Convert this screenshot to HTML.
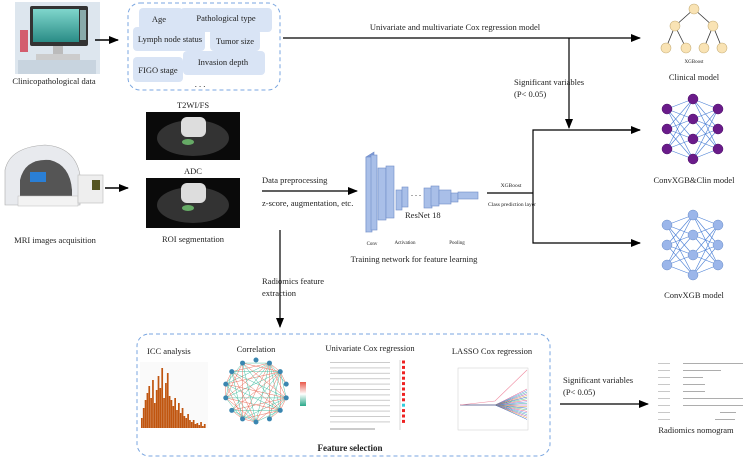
<!DOCTYPE html>
<html><head><meta charset="utf-8"><style>
html,body{margin:0;padding:0;background:#fff}
svg{display:block}
text{font-family:"Liberation Serif",serif;fill:#222}
</style></head><body>
<svg id="s" width="750" height="460" viewBox="0 0 750 460" xmlns="http://www.w3.org/2000/svg">
<defs>
<marker id="ah" markerWidth="10" markerHeight="8" refX="9" refY="4" orient="auto" markerUnits="userSpaceOnUse"><path d="M0,0 L10,4 L0,8 z" fill="#000"/></marker>
<linearGradient id="scr" x1="0" y1="0" x2="0" y2="1"><stop offset="0" stop-color="#7fd6cc"/><stop offset="1" stop-color="#2a8c86"/></linearGradient>
<linearGradient id="cb" x1="0" y1="0" x2="0" y2="1"><stop offset="0" stop-color="#e8584a"/><stop offset="0.5" stop-color="#fff"/><stop offset="1" stop-color="#2aa889"/></linearGradient>
</defs>

<!-- computer -->
<rect x="15" y="2" width="85" height="72" fill="#dde6ee"/>
<rect x="30" y="6" width="58" height="40" rx="2" fill="#333"/>
<rect x="33" y="9" width="46" height="33" fill="url(#scr)"/>
<rect x="80" y="10" width="6" height="30" fill="#8aa"/>
<rect x="53" y="46" width="10" height="8" fill="#bbb"/>
<rect x="36" y="54" width="44" height="7" fill="#ccc"/>
<rect x="18" y="60" width="78" height="14" fill="#c8d4df"/>
<rect x="20" y="30" width="8" height="22" fill="#d35d6e"/>
<text x="54" y="84" font-size="8.5" text-anchor="middle">Clinicopathological data</text>
<line x1="95" y1="40" x2="118" y2="40" stroke="#000" stroke-width="1.5" marker-end="url(#ah)"/>

<!-- clinical box -->
<rect x="128" y="3" width="152" height="87" rx="12" fill="none" stroke="#7aa6e0" stroke-width="1" stroke-dasharray="4,3"/>
<g fill="#d9e4f5">
<rect x="139" y="8" width="44" height="22" rx="4"/>
<rect x="180" y="8" width="92" height="24" rx="4"/>
<rect x="133" y="27" width="72" height="24" rx="4"/>
<rect x="210" y="29" width="50" height="22" rx="4"/>
<rect x="133" y="57" width="50" height="25" rx="4"/>
<rect x="183" y="51" width="82" height="24" rx="4"/>
</g>
<g font-size="8.5" text-anchor="middle">
<text x="159" y="22">Age</text>
<text x="226" y="21">Pathological type</text>
<text x="170" y="42">Lymph node status</text>
<text x="235" y="44">Tumor size</text>
<text x="158" y="73">FIGO stage</text>
<text x="223" y="65">Invasion depth</text>
<text x="200" y="87">. . .</text>
</g>

<!-- top line -->
<line x1="283" y1="38" x2="640" y2="38" stroke="#000" stroke-width="1.2" marker-end="url(#ah)"/>
<text x="455" y="30" font-size="8.5" text-anchor="middle">Univariate and multivariate Cox regression model</text>
<line x1="569" y1="38" x2="569" y2="128" stroke="#000" stroke-width="1.2" marker-end="url(#ah)"/>
<text x="514" y="85" font-size="8.5">Significant variables</text>
<text x="514" y="97" font-size="8.5">(P&lt; 0.05)</text>
<polyline points="640,130 533,130 533,243 640,243" fill="none" stroke="#000" stroke-width="1.2"/>
<line x1="600" y1="130" x2="640" y2="130" stroke="#000" stroke-width="1.2" marker-end="url(#ah)"/>
<line x1="600" y1="243" x2="640" y2="243" stroke="#000" stroke-width="1.2" marker-end="url(#ah)"/>
<line x1="487" y1="193" x2="533" y2="193" stroke="#000" stroke-width="1.2"/>
<text x="511" y="187" font-size="5.5" text-anchor="middle">XGBoost</text>
<text x="512" y="206" font-size="5.5" text-anchor="middle">Class prediction layer</text>

<!-- clinical tree -->
<g stroke="#333" stroke-width="0.8">
<line x1="694" y1="9" x2="675" y2="26"/><line x1="694" y1="9" x2="713" y2="26"/>
<line x1="675" y1="26" x2="666" y2="48"/><line x1="675" y1="26" x2="686" y2="48"/>
<line x1="713" y1="26" x2="704" y2="48"/><line x1="713" y1="26" x2="722" y2="48"/>
</g>
<g fill="#f9e3b4" stroke="#c9b07a" stroke-width="0.6">
<circle cx="694" cy="9" r="5"/><circle cx="675" cy="26" r="5"/><circle cx="713" cy="26" r="5"/>
<circle cx="666" cy="48" r="5"/><circle cx="686" cy="48" r="5"/><circle cx="704" cy="48" r="5"/><circle cx="722" cy="48" r="5"/>
</g>
<text x="694" y="63" font-size="5" text-anchor="middle">XGBoost</text>
<text x="694" y="80" font-size="8.5" text-anchor="middle">Clinical model</text>

<g id="nets"></g>
<text x="694" y="183" font-size="8.5" text-anchor="middle">ConvXGB&amp;Clin model</text>
<text x="694" y="298" font-size="8.5" text-anchor="middle">ConvXGB model</text>

<!-- MRI machine -->
<path d="M5,195 L5,170 Q10,147 45,145 Q75,147 80,175 L80,205 L5,205 z" fill="#e8eaee" stroke="#aaa" stroke-width="0.6"/>
<path d="M20,205 L20,180 Q25,158 50,160 Q70,165 72,190 L72,205z" fill="#555"/>
<rect x="30" y="172" width="16" height="10" fill="#2a7fd6"/>
<rect x="18" y="196" width="60" height="10" fill="#f3f3f3" stroke="#bbb" stroke-width="0.5"/>
<rect x="78" y="175" width="25" height="28" fill="#eee" stroke="#bbb" stroke-width="0.6"/>
<rect x="92" y="180" width="8" height="10" fill="#552"/>
<text x="55" y="243" font-size="8.5" text-anchor="middle">MRI images acquisition</text>
<line x1="105" y1="188" x2="128" y2="188" stroke="#000" stroke-width="1.5" marker-end="url(#ah)"/>

<!-- MRI images -->
<text x="193" y="108" font-size="8.5" text-anchor="middle">T2WI/FS</text>
<rect x="146" y="112" width="94" height="48" fill="#0a0a0a"/>
<ellipse cx="193" cy="138" rx="36" ry="18" fill="#333"/>
<rect x="181" y="117" width="25" height="20" rx="6" fill="#ddd"/>
<ellipse cx="188" cy="142" rx="6" ry="3" fill="#6a6"/>
<text x="193" y="174" font-size="8.5" text-anchor="middle">ADC</text>
<rect x="146" y="178" width="94" height="50" fill="#0a0a0a"/>
<ellipse cx="193" cy="205" rx="36" ry="18" fill="#333"/>
<rect x="181" y="183" width="25" height="20" rx="6" fill="#ddd"/>
<ellipse cx="188" cy="208" rx="6" ry="3" fill="#6a6"/>
<text x="193" y="242" font-size="8.5" text-anchor="middle">ROI segmentation</text>

<text x="262" y="183" font-size="8.5">Data preprocessing</text>
<line x1="262" y1="191" x2="357" y2="191" stroke="#000" stroke-width="1.2" marker-end="url(#ah)"/>
<text x="262" y="206" font-size="8.5">z-score, augmentation, etc.</text>

<!-- CNN -->
<g fill="#a9bfe8" stroke="#6f8cc8" stroke-width="0.6">
<path d="M366,157 L374,152 L374,226 L366,232z" fill="#7f9bd6"/>
<rect x="366" y="157" width="6" height="75"/>
<rect x="371" y="155" width="6" height="75"/>
<rect x="378" y="168" width="8" height="52"/>
<rect x="386" y="166" width="8" height="52"/>
<rect x="396" y="190" width="6" height="20"/>
<rect x="402" y="187" width="6" height="20"/>
<rect x="424" y="188" width="8" height="20"/>
<rect x="431" y="186" width="8" height="20"/>
<rect x="439" y="190" width="12" height="14"/>
<rect x="451" y="193" width="7" height="9"/>
<rect x="458" y="192" width="20" height="7"/>
</g>
<text x="411" y="196" font-size="8">. . .</text>
<text x="405" y="218" font-size="8.5">ResNet 18</text>
<g font-size="5" text-anchor="middle"><text x="372" y="245">Conv</text><text x="405" y="244">Activation</text><text x="457" y="244">Pooling</text></g>
<text x="414" y="262" font-size="8.5" text-anchor="middle">Training network for feature learning</text>

<text x="262" y="284" font-size="8.5">Radiomics feature</text>
<text x="262" y="296" font-size="8.5">extraction</text>
<line x1="280" y1="230" x2="280" y2="327" stroke="#000" stroke-width="1.2" marker-end="url(#ah)"/>

<!-- bottom box -->
<rect x="137" y="334" width="413" height="122" rx="12" fill="none" stroke="#7aa6e0" stroke-width="1" stroke-dasharray="4,3"/>
<text x="147" y="354" font-size="8.5">ICC analysis</text>
<text x="256" y="352" font-size="8.5" text-anchor="middle">Correlation</text>
<text x="370" y="351" font-size="8.5" text-anchor="middle">Univariate Cox regression</text>
<text x="492" y="354" font-size="8.5" text-anchor="middle">LASSO Cox regression</text>
<text x="350" y="451" font-size="9" font-weight="bold" text-anchor="middle">Feature selection</text>
<g id="hist"></g>
<g id="corr"></g>
<rect x="300" y="382" width="6" height="24" fill="url(#cb)"/>
<!-- forest -->
<g id="forest"></g>
<!-- lasso -->
<rect x="458" y="368" width="70" height="62" fill="#fff" stroke="#ccc" stroke-width="0.5"/>
<g id="lasso"></g>

<text x="563" y="383" font-size="8.5">Significant variables</text>
<text x="563" y="395" font-size="8.5">(P&lt; 0.05)</text>
<line x1="560" y1="404" x2="648" y2="404" stroke="#000" stroke-width="1.2" marker-end="url(#ah)"/>
<g id="nomo"></g>
<text x="696" y="433" font-size="8.5" text-anchor="middle">Radiomics nomogram</text>
</svg>
<script>
var NS="http://www.w3.org/2000/svg";
function el(p,t,a){var e=document.createElementNS(NS,t);for(var k in a)e.setAttribute(k,a[k]);document.getElementById(p).appendChild(e);return e;}
// nets
function net(cy,fill,stroke){
 var L=[[[667,cy-20],[667,cy],[667,cy+20]],[[693,cy-30],[693,cy-10],[693,cy+10],[693,cy+30]],[[718,cy-20],[718,cy],[718,cy+20]]];
 for(var a=0;a<2;a++)L[a].forEach(function(p){L[a+1].forEach(function(q){el("nets","line",{x1:p[0],y1:p[1],x2:q[0],y2:q[1],stroke:"#4a7fd6","stroke-width":0.6});});});
 L.forEach(function(l){l.forEach(function(p){el("nets","circle",{cx:p[0],cy:p[1],r:5,fill:fill,stroke:stroke,"stroke-width":0.5});});});
}
net(129,"#6a1b8a","#4a0f66");net(245,"#9bb6ea","#6a8cc8");
// hist
el("hist","rect",{x:140,y:362,width:68,height:66,fill:"#fafafa"});
var h=[10,20,28,35,42,30,48,25,38,52,40,60,30,45,55,32,28,22,30,18,25,15,20,12,10,14,8,6,8,4,5,3,6,2,4];
for(var i=0;i<h.length;i++)el("hist","rect",{x:141+i*1.85,y:428-h[i],width:1.7,height:h[i],fill:"#c0550f"});
// corr
var cx=256,cy=391,r=31,pts=[];
for(var i=0;i<14;i++){var a=i/14*2*Math.PI-Math.PI/2;pts.push([cx+r*Math.cos(a),cy+r*Math.sin(a)]);}
for(var i=0;i<14;i++)for(var j=i+1;j<14;j++){if((i*7+j*3)%3==0)continue;el("corr","line",{x1:pts[i][0],y1:pts[i][1],x2:pts[j][0],y2:pts[j][1],stroke:((i+j)%2?"#e8705e":"#4cbfa4"),"stroke-width":0.5});}
pts.forEach(function(p){el("corr","circle",{cx:p[0],cy:p[1],r:2.5,fill:"#3a86b0"});});
// forest
for(var i=0;i<12;i++){var y=362+i*5.4;el("forest","rect",{x:330,y:y,width:60,height:1,fill:"#ccc"});el("forest","rect",{x:402,y:y-1.5,width:3,height:3,fill:i==8?"#3cd":"#e22"});}
el("forest","line",{x1:330,y1:429,x2:375,y2:429,stroke:"#333","stroke-width":0.6});
el("forest","line",{x1:400,y1:360,x2:400,y2:430,stroke:"#999","stroke-width":0.4});
// lasso
var cols=["#e05a8a","#5a8ae0","#40b0a0","#a050c0","#e0a040","#3060c0","#60c080"];
for(var i=0;i<20;i++){var e=(i-10)*1.6;el("lasso","polyline",{points:"460,405 495,405 505,"+(405+e*0.3)+" 527,"+(405+e),fill:"none",stroke:cols[i%7],"stroke-width":0.5});}
el("lasso","polyline",{points:"460,405 495,401 527,370",fill:"none",stroke:"#f08aa0","stroke-width":0.6});
// nomogram
for(var i=0;i<9;i++){var y=363+i*7;el("nomo","rect",{x:658,y:y,width:12,height:0.8,fill:"#bbb"});var w=[60,38,20,22,22,60,60,16,20][i],x=[683,683,683,683,683,683,683,720,715][i];el("nomo","rect",{x:x,y:y,width:w,height:0.8,fill:"#999"});}
</script>
</body></html>
